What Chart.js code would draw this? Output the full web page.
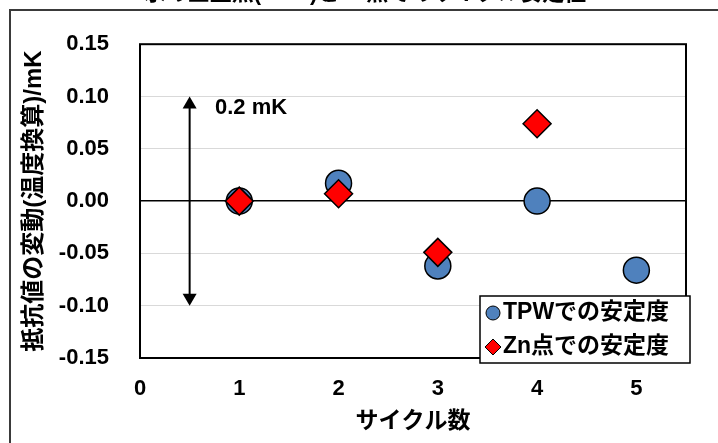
<!DOCTYPE html>
<html>
<head>
<meta charset="utf-8">
<script src="https://cdn.jsdelivr.net/npm/chart.js@4.4.0/dist/chart.umd.min.js"></script>
<style>
  body { margin: 0; background: #fff; }
  canvas { display: block; }
</style>
</head>
<body>
<canvas id="chart" width="718" height="443"></canvas>
<script>
// chart data
const cycles = [1, 2, 3, 4, 5];
const tpwValues = [0.000, 0.017, -0.062, 0.000, -0.066];
const znCycles = [1, 2, 3, 4];
const znValues = [0.000, 0.007, -0.049, 0.074];
const xTicks = [0, 1, 2, 3, 4, 5];
const yTicks = [-0.15, -0.10, -0.05, 0.00, 0.05, 0.10, 0.15];
const seriesNames = ['TPWでの安定度', 'Zn点での安定度'];
// double arrow showing the 0.2 mK span
const arrowX = 0.5;
const arrowRange = [0.10, -0.10];
const arrowLabel = '0.2 mK';

const FONT = "'Liberation Sans', 'Noto Sans CJK JP', sans-serif";
const TITLE = '水の三重点(TPW)とZn点でのサイクル安定性';

// outer frame + cut-off title
const framePlugin = {
  id: 'frame',
  beforeDraw(chart) {
    const ctx = chart.ctx;
    ctx.save();
    ctx.fillStyle = '#fff';
    ctx.fillRect(0, 0, chart.width, chart.height);
    ctx.strokeStyle = '#3a3a3a';
    ctx.lineWidth = 2;
    ctx.beginPath();
    ctx.moveTo(10, chart.height + 5);
    ctx.lineTo(10, 10);
    ctx.lineTo(chart.width + 5, 10);
    ctx.stroke();
    ctx.fillStyle = '#000';
    ctx.font = "bold 22px " + FONT;
    ctx.textAlign = 'center';
    ctx.textBaseline = 'alphabetic';
    ctx.fillText(TITLE, 365, 0);
    ctx.restore();
  }
};

// plot border, arrow, annotation, legend
const extrasPlugin = {
  id: 'extras',
  beforeDatasetsDraw(chart) {
    const {ctx, chartArea: a} = chart;
    ctx.save();
    ctx.strokeStyle = '#000';
    ctx.lineWidth = 2;
    ctx.strokeRect(a.left, a.top, a.right - a.left, a.bottom - a.top);
    ctx.restore();
  },
  afterDatasetsDraw(chart) {
    const {ctx, scales: {x, y}} = chart;
    ctx.save();
    const ax = x.getPixelForValue(arrowX);
    const y1 = y.getPixelForValue(arrowRange[0]);
    const y2 = y.getPixelForValue(arrowRange[1]);
    ctx.strokeStyle = '#000';
    ctx.fillStyle = '#000';
    ctx.lineWidth = 2;
    ctx.beginPath();
    ctx.moveTo(ax, y1 + 8);
    ctx.lineTo(ax, y2 - 8);
    ctx.stroke();
    ctx.beginPath();
    ctx.moveTo(ax, y1);
    ctx.lineTo(ax - 7, y1 + 12);
    ctx.lineTo(ax + 7, y1 + 12);
    ctx.closePath();
    ctx.fill();
    ctx.beginPath();
    ctx.moveTo(ax, y2);
    ctx.lineTo(ax - 7, y2 - 12);
    ctx.lineTo(ax + 7, y2 - 12);
    ctx.closePath();
    ctx.fill();

    ctx.font = "bold 22px " + FONT;
    ctx.textAlign = 'left';
    ctx.textBaseline = 'middle';
    ctx.fillText(arrowLabel, 215, 108);

    // legend box
    ctx.fillStyle = '#fff';
    ctx.fillRect(480, 296, 210, 67);
    ctx.strokeStyle = '#000';
    ctx.lineWidth = 1.5;
    ctx.strokeRect(480, 296, 210, 67);

    ctx.beginPath();
    ctx.arc(493, 313, 7, 0, Math.PI * 2);
    ctx.fillStyle = '#4f81bd';
    ctx.fill();
    ctx.lineWidth = 1;
    ctx.stroke();

    ctx.beginPath();
    ctx.moveTo(493, 339);
    ctx.lineTo(501, 347);
    ctx.lineTo(493, 355);
    ctx.lineTo(485, 347);
    ctx.closePath();
    ctx.fillStyle = '#ff0000';
    ctx.fill();
    ctx.stroke();

    ctx.fillStyle = '#000';
    ctx.font = "bold 23px " + FONT;
    ctx.fillText(seriesNames[0], 503, 313);
    ctx.fillText(seriesNames[1], 503, 347);
    ctx.restore();
  }
};

new Chart(document.getElementById('chart'), {
  type: 'scatter',
  data: {
    datasets: [
      {
        label: seriesNames[0],
        data: cycles.map((c, i) => ({x: c, y: tpwValues[i]})),
        pointStyle: 'circle',
        pointRadius: 13,
        backgroundColor: '#4f81bd',
        borderColor: '#000',
        borderWidth: 1.5,
        order: 2
      },
      {
        label: seriesNames[1],
        data: znCycles.map((c, i) => ({x: c, y: znValues[i]})),
        pointStyle: 'rectRot',
        pointRadius: 14,
        backgroundColor: '#ff0000',
        borderColor: '#000',
        borderWidth: 1.5,
        order: 1
      }
    ]
  },
  options: {
    responsive: false,
    animation: false,
    layout: { padding: { left: 0, right: 32, top: 40, bottom: 0 } },
    plugins: {
      legend: { display: false },
      tooltip: { enabled: false }
    },
    scales: {
      x: {
        type: 'linear',
        min: 0,
        max: 5.5,
        afterBuildTicks: s => { s.ticks = xTicks.map(v => ({value: v})); },
        afterFit: s => { s.height = 85; },
        grid: { display: false, drawTicks: false },
        border: { display: false },
        ticks: {
          padding: 18,
          color: '#000',
          font: { family: FONT, size: 22, weight: 'bold' }
        },
        title: {
          display: true,
          text: 'サイクル数',
          color: '#000',
          padding: { top: 0, bottom: 8 },
          font: { family: FONT, size: 23, weight: 'bold' }
        }
      },
      y: {
        min: -0.15,
        max: 0.15,
        afterBuildTicks: s => { s.ticks = yTicks.map(v => ({value: v})); },
        afterFit: s => { s.width = 140; },
        grid: {
          drawTicks: false,
          color: c => (Math.abs(c.tick.value) < 1e-9 ? '#000' : '#d9d9d9'),
          lineWidth: c => (Math.abs(c.tick.value) < 1e-9 ? 1.5 : 1)
        },
        border: { display: false },
        ticks: {
          padding: 31,
          color: '#000',
          font: { family: FONT, size: 22, weight: 'bold' },
          callback: v => v.toFixed(2)
        },
        title: {
          display: true,
          text: '抵抗値の変動(温度換算)/mK',
          color: '#000',
          padding: { top: 20, bottom: 0 },
          font: { family: FONT, size: 24, weight: 'bold' }
        }
      }
    }
  },
  plugins: [framePlugin, extrasPlugin]
});
</script>
</body>
</html>
